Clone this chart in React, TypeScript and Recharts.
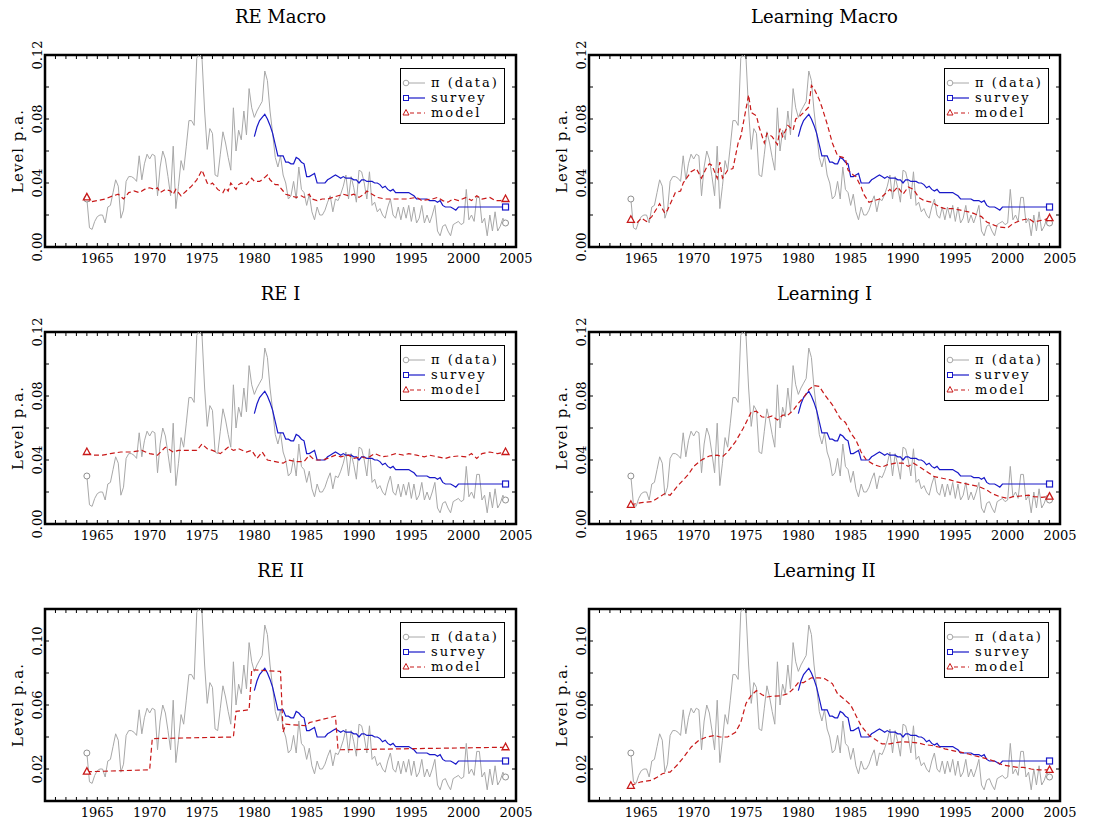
import React from "react";
import { LineChart, Line, XAxis, YAxis, ReferenceArea, Legend } from "recharts";

const FONT = '"DejaVu Serif", serif';

// quarterly inflation, 1964Q1 .. 2004Q1
const inflationStart = 1964;
const inflation = [
  0.030, 0.012, 0.011, 0.016,
  0.019, 0.020, 0.020, 0.015,
  0.025, 0.026, 0.034, 0.042,
  0.038, 0.018, 0.023, 0.041,
  0.044, 0.044, 0.043, 0.041,
  0.057, 0.042, 0.052, 0.058,
  0.055, 0.058, 0.057, 0.032,
  0.050, 0.060, 0.055, 0.044,
  0.032, 0.063, 0.024, 0.038,
  0.054, 0.048, 0.063, 0.079,
  0.079, 0.076, 0.118, 0.121,
  0.118, 0.085, 0.061, 0.074,
  0.071, 0.045, 0.044, 0.058,
  0.072, 0.065, 0.056, 0.048,
  0.087, 0.060, 0.073, 0.067,
  0.085, 0.070, 0.099, 0.087,
  0.081, 0.085, 0.088, 0.091,
  0.110, 0.104, 0.085, 0.071,
  0.056, 0.050, 0.057, 0.045,
  0.040, 0.030, 0.032, 0.041,
  0.030, 0.050, 0.036, 0.034,
  0.026, 0.033, 0.022, 0.017,
  0.025, 0.020, 0.020, 0.023,
  0.028, 0.032, 0.022, 0.030,
  0.029, 0.033, 0.038, 0.045,
  0.030, 0.044, 0.037, 0.028,
  0.048, 0.047, 0.040, 0.030,
  0.047, 0.026, 0.028, 0.022,
  0.024, 0.020, 0.018, 0.025,
  0.030, 0.020, 0.018, 0.025,
  0.017, 0.025, 0.018, 0.026,
  0.016, 0.025, 0.015, 0.018,
  0.026, 0.015, 0.020, 0.015,
  0.020, 0.026, 0.010, 0.007,
  0.013, 0.014, 0.010, 0.007,
  0.014, 0.015, 0.016, 0.014,
  0.015, 0.036, 0.017, 0.020,
  0.016, 0.031, 0.031, 0.015,
  0.018, 0.007, 0.020, 0.010,
  0.022, 0.010, 0.013, 0.018,
  0.015,
];

// quarterly survey expectations, 1980Q1 .. 2004Q1
const surveyStart = 1980;
const survey = [
  0.069, 0.075, 0.079, 0.081,
  0.083, 0.080, 0.076, 0.071,
  0.064, 0.057, 0.057, 0.057,
  0.053, 0.053, 0.052, 0.052,
  0.056, 0.055, 0.053, 0.052,
  0.044, 0.044, 0.045, 0.046,
  0.040, 0.040, 0.040, 0.040,
  0.042, 0.043, 0.044, 0.045,
  0.044, 0.043, 0.044, 0.043,
  0.043, 0.043, 0.042, 0.042,
  0.040, 0.042, 0.042, 0.041,
  0.041, 0.041, 0.040, 0.040,
  0.039, 0.037, 0.038, 0.036,
  0.035, 0.036, 0.034, 0.034,
  0.034, 0.034, 0.034, 0.034,
  0.033, 0.032, 0.030, 0.030,
  0.030, 0.030, 0.030, 0.029,
  0.029, 0.029, 0.028, 0.029,
  0.026, 0.025, 0.025, 0.025,
  0.024, 0.023, 0.025, 0.025,
  0.025, 0.025, 0.025, 0.025,
  0.025, 0.025, 0.025, 0.025,
  0.025, 0.025, 0.025, 0.025,
  0.025, 0.025, 0.025, 0.025,
  0.025,
];

// model expectations, [year, level]
const modelREMacro: [number, number][] = [
  [1964, 0.031], [1964.25, 0.028], [1965, 0.029], [1965.75, 0.030], [1966.5, 0.032],
  [1967, 0.033], [1967.5, 0.030], [1968, 0.034], [1968.5, 0.035], [1969, 0.034],
  [1969.5, 0.036], [1970, 0.037], [1970.5, 0.036], [1970.75, 0.037], [1971, 0.034],
  [1971.5, 0.036], [1972, 0.035], [1972.25, 0.033], [1972.5, 0.036], [1973, 0.032],
  [1973.5, 0.035], [1974, 0.038], [1974.5, 0.042], [1974.75, 0.045], [1975, 0.048],
  [1975.5, 0.040], [1975.75, 0.039], [1976, 0.040], [1976.5, 0.036], [1977, 0.034],
  [1977.25, 0.037], [1977.5, 0.035], [1977.75, 0.040], [1978, 0.038], [1978.25, 0.036],
  [1978.5, 0.039], [1978.75, 0.040], [1979.25, 0.039], [1979.75, 0.043], [1980, 0.041],
  [1980.5, 0.041], [1980.75, 0.042], [1981.25, 0.045], [1981.5, 0.042], [1982, 0.039],
  [1982.25, 0.039], [1982.75, 0.035], [1983, 0.033], [1983.5, 0.032], [1984, 0.031],
  [1984.5, 0.032], [1984.75, 0.031], [1985.25, 0.033], [1985.5, 0.030], [1986, 0.029],
  [1986.5, 0.030], [1987, 0.030], [1987.5, 0.031], [1988, 0.032], [1988.5, 0.033],
  [1989, 0.032], [1989.5, 0.033], [1990, 0.031], [1990.5, 0.033], [1990.75, 0.035],
  [1991.25, 0.033], [1991.75, 0.031], [1992.5, 0.030], [1993.5, 0.030], [1994.5, 0.030],
  [1995.5, 0.031], [1996, 0.029], [1997, 0.030], [1997.5, 0.031], [1998, 0.029],
  [1998.5, 0.028], [1999, 0.030], [1999.5, 0.029], [2000.25, 0.031], [2000.75, 0.029],
  [2001.25, 0.032], [2001.75, 0.030], [2002.5, 0.031], [2003, 0.029], [2003.5, 0.029],
  [2004, 0.030],
];

const modelLearnMacro: [number, number][] = [
  [1964, 0.017], [1964.5, 0.0145], [1965, 0.018], [1965.5, 0.016], [1966, 0.019],
  [1966.75, 0.027], [1967.25, 0.021], [1967.5, 0.023], [1968.25, 0.034], [1968.75, 0.035],
  [1969, 0.040], [1969.75, 0.047], [1970.25, 0.049], [1970.75, 0.043], [1971.25, 0.050],
  [1971.5, 0.052], [1971.75, 0.051], [1972.25, 0.043], [1972.5, 0.053], [1972.75, 0.043],
  [1973.25, 0.048], [1973.75, 0.049], [1974.25, 0.065], [1974.5, 0.069], [1975.25, 0.095],
  [1975.5, 0.084], [1976, 0.082], [1976.25, 0.075], [1976.75, 0.065], [1977, 0.071],
  [1977.5, 0.069], [1978, 0.064], [1978.25, 0.074], [1978.5, 0.069], [1979, 0.076],
  [1979.5, 0.073], [1979.75, 0.080], [1980, 0.081], [1980.5, 0.084], [1981, 0.0875],
  [1981.25, 0.101], [1981.5, 0.099], [1982, 0.092], [1982.25, 0.0875], [1982.75, 0.077],
  [1983.25, 0.065], [1983.75, 0.057], [1984.25, 0.056], [1984.5, 0.055], [1984.75, 0.048],
  [1985.25, 0.045], [1985.5, 0.044], [1986, 0.0375], [1986.25, 0.033], [1986.75, 0.028],
  [1987.25, 0.029], [1987.75, 0.030], [1988.25, 0.033], [1988.75, 0.036], [1989, 0.034],
  [1989.5, 0.0375], [1990, 0.033], [1990.5, 0.0375], [1991, 0.036], [1991.5, 0.031],
  [1992, 0.029], [1992.75, 0.028], [1993.5, 0.025], [1994, 0.024], [1994.75, 0.024],
  [1995.5, 0.023], [1996.25, 0.022], [1996.75, 0.021], [1997.5, 0.019], [1998, 0.0156],
  [1998.75, 0.0135], [1999.25, 0.0125], [2000, 0.012], [2000.5, 0.0146], [2001.25, 0.0167],
  [2002, 0.0177], [2002.5, 0.0156], [2003.25, 0.0167], [2004, 0.018],
];

const modelREI: [number, number][] = [
  [1964, 0.045], [1964.5, 0.043], [1965.5, 0.043], [1966.25, 0.044], [1967.25, 0.045],
  [1968.25, 0.045], [1969.25, 0.046], [1970, 0.044], [1970.75, 0.043], [1971.5, 0.048],
  [1972.25, 0.045], [1972.75, 0.046], [1973.5, 0.046], [1974.5, 0.046], [1975, 0.050],
  [1975.5, 0.047], [1976, 0.046], [1976.75, 0.044], [1977.5, 0.048], [1978, 0.046],
  [1978.5, 0.047], [1979.25, 0.045], [1979.75, 0.046], [1980.25, 0.041], [1980.75, 0.045],
  [1981.25, 0.040], [1982, 0.039], [1982.75, 0.038], [1983.25, 0.040], [1984, 0.039],
  [1984.75, 0.039], [1985.25, 0.043], [1985.75, 0.040], [1986.5, 0.040], [1987, 0.041],
  [1987.75, 0.043], [1988.25, 0.042], [1989, 0.043], [1989.5, 0.041], [1990.25, 0.042],
  [1990.75, 0.041], [1991.5, 0.044], [1992.25, 0.042], [1992.75, 0.0425], [1993.5, 0.044],
  [1994.25, 0.043], [1994.75, 0.044], [1995.5, 0.043], [1996.25, 0.042], [1996.75, 0.043],
  [1997.5, 0.042], [1998.25, 0.041], [1998.75, 0.042], [1999.5, 0.0425], [2000.25, 0.042],
  [2000.75, 0.044], [2001.25, 0.041], [2001.75, 0.044], [2002.5, 0.045], [2003.25, 0.044],
  [2004, 0.045],
];

const modelLearnI: [number, number][] = [
  [1964, 0.012], [1965, 0.0134], [1966, 0.014], [1966.5, 0.016], [1967.25, 0.019],
  [1967.75, 0.018], [1968.5, 0.024], [1969.5, 0.031], [1970, 0.036], [1970.75, 0.040],
  [1971.5, 0.0425], [1972.25, 0.043], [1972.75, 0.042], [1973.25, 0.045], [1974, 0.0515],
  [1974.75, 0.060], [1975.5, 0.070], [1976, 0.0705], [1976.5, 0.067], [1977, 0.0665],
  [1977.5, 0.0675], [1978, 0.065], [1978.5, 0.068], [1979, 0.068], [1979.5, 0.071],
  [1980, 0.0755], [1980.5, 0.079], [1981, 0.084], [1981.5, 0.0865], [1982, 0.086],
  [1982.5, 0.081], [1983.25, 0.0745], [1984, 0.066], [1984.5, 0.0635], [1985, 0.057],
  [1985.5, 0.0525], [1986, 0.045], [1986.5, 0.040], [1987.25, 0.037], [1988, 0.0355],
  [1988.5, 0.037], [1989.25, 0.038], [1990, 0.038], [1990.5, 0.036], [1991, 0.038],
  [1991.75, 0.035], [1992.5, 0.0317], [1993, 0.0296], [1993.75, 0.0286], [1994.5, 0.0276],
  [1995, 0.0265], [1995.75, 0.0255], [1996.5, 0.0244], [1997.25, 0.0234], [1998, 0.0213],
  [1998.5, 0.019], [1999.25, 0.0171], [2000, 0.016], [2000.5, 0.0171], [2001.25, 0.0175],
  [2002, 0.018], [2002.5, 0.0171], [2003.25, 0.0167], [2004, 0.0171],
];

const modelREII: [number, number][] = [
  [1964, 0.0183], [1970, 0.0195], [1970.25, 0.039], [1978, 0.040], [1978.25, 0.056],
  [1979.5, 0.057], [1979.75, 0.082], [1982.5, 0.081], [1982.75, 0.043], [1983, 0.048],
  [1985, 0.047], [1985.25, 0.049], [1987.75, 0.053], [1988, 0.032], [2004, 0.0336],
];

const modelLearnII: [number, number][] = [
  [1964, 0.0095], [1964.5, 0.011], [1965, 0.012], [1966, 0.013], [1966.5, 0.0148],
  [1967, 0.017], [1967.5, 0.018], [1967.75, 0.018], [1968.5, 0.023], [1969, 0.027],
  [1969.75, 0.0336], [1970.5, 0.038], [1971.25, 0.040], [1972, 0.041], [1972.5, 0.040],
  [1973.25, 0.040], [1974, 0.043], [1974.5, 0.049], [1975, 0.061], [1975.5, 0.066],
  [1976, 0.069], [1976.5, 0.0665], [1977, 0.065], [1977.5, 0.0655], [1978.25, 0.0657],
  [1979, 0.067], [1979.5, 0.070], [1980, 0.074], [1980.5, 0.074], [1981.25, 0.077],
  [1982, 0.077], [1982.5, 0.0765], [1983.25, 0.0734], [1983.75, 0.067], [1984.5, 0.063],
  [1985, 0.060], [1985.5, 0.0535], [1986, 0.047], [1986.75, 0.041], [1987.5, 0.0378],
  [1988, 0.0357], [1988.75, 0.0357], [1989.5, 0.0367], [1990, 0.037], [1990.75, 0.0367],
  [1991.5, 0.0363], [1992, 0.0353], [1992.75, 0.0347], [1993.5, 0.0336], [1994, 0.0326],
  [1994.75, 0.0315], [1995.5, 0.0305], [1996.25, 0.0294], [1996.75, 0.0284], [1997.5, 0.0273],
  [1998.25, 0.0259], [1999, 0.0242], [1999.5, 0.0225], [2000.25, 0.0217], [2001, 0.021],
  [2001.5, 0.021], [2002.25, 0.020], [2003, 0.0194], [2004, 0.0194],
];

const xTicks = Array.from({ length: 46 }, (_, i) => 1960 + i);
const yTicks = [0, 0.02, 0.04, 0.06, 0.08, 0.1, 0.12];
const yLabelsTop = [0, 0.04, 0.08, 0.12];
const yLabelsBottom = [0.02, 0.06, 0.1];

const GREY = "#a8a8a8";
const BLUE = "#1818c8";
const RED = "#c81818";

// plot area geometry inside each panel
const PLOT_W = 471;
const PLOT_H = 192;
const Y_AXIS_W = 45;
const M_TOP = 55;
const PANEL_W = 544;
const PANEL_H = 277;
const X_AXIS_H = PANEL_H - M_TOP - PLOT_H;

const inflationData = inflation.map((v, i) => ({ x: inflationStart + i / 4, v }));
const surveyData = survey.map((v, i) => ({ x: surveyStart + i / 4, v }));
const toData = (pairs: [number, number][]) => pairs.map(([x, v]) => ({ x, v }));

const XTick = (props: any) => {
  const { x, y, payload } = props;
  const yr = payload.value;
  const edge = yr === 1960 || yr === 2005;
  return (
    <g>
      {!edge && (
        <>
          <line x1={x} x2={x} y1={y} y2={y - 4} stroke="#000" strokeWidth={1} />
          <line x1={x} x2={x} y1={y - PLOT_H} y2={y - PLOT_H + 4} stroke="#000" strokeWidth={1} />
        </>
      )}
      {yr % 5 === 0 && yr > 1960 && (
        <text x={x} y={y + 16} textAnchor="middle" fontFamily={FONT} fontSize={13} fill="#000">
          {yr}
        </text>
      )}
    </g>
  );
};

const YTick = (props: any) => {
  const { x, y, payload, labels } = props;
  const v = payload.value;
  const show = labels.some((l: number) => Math.abs(l - v) < 1e-9);
  const inner = v > 0.001 && v < 0.119;
  return (
    <g>
      {inner && (
        <>
          <line x1={x} x2={x + 4} y1={y} y2={y} stroke="#000" strokeWidth={1} />
          <line x1={x + PLOT_W} x2={x + PLOT_W - 4} y1={y} y2={y} stroke="#000" strokeWidth={1} />
        </>
      )}
      {show && (
        <text
          x={x - 3}
          y={y}
          transform={`rotate(-90 ${x - 3} ${y})`}
          textAnchor="middle"
          fontFamily={FONT}
          fontSize={13}
          fill="#000"
        >
          {v.toFixed(2)}
        </text>
      )}
    </g>
  );
};

const YLabel = (props: any) => {
  const vb = props.viewBox || { x: 0, y: M_TOP, width: Y_AXIS_W, height: PLOT_H };
  const cx = vb.x + vb.width - 22;
  const cy = vb.y + vb.height / 2;
  return (
    <text
      x={cx}
      y={cy}
      transform={`rotate(-90 ${cx} ${cy})`}
      textAnchor="middle"
      fontFamily={FONT}
      fontSize={15}
      letterSpacing={1}
      fill="#000"
    >
      Level p.a.
    </text>
  );
};

const endDot = (shape: string, color: string, last: number, withFirst: boolean) => (p: any) => {
  const { cx, cy, index } = p;
  const k = `dot-${shape}-${index}`;
  if (!((withFirst && index === 0) || index === last)) return <g key={k} />;
  if (shape === "circle")
    return <circle key={k} cx={cx} cy={cy} r={3} fill="#fff" stroke={color} strokeWidth={1} />;
  if (shape === "square")
    return <rect key={k} x={cx - 3} y={cy - 3} width={6} height={6} fill="#fff" stroke={color} strokeWidth={1.2} />;
  return (
    <polygon
      key={k}
      points={`${cx},${cy - 4} ${cx - 3.5},${cy + 2.5} ${cx + 3.5},${cy + 2.5}`}
      fill="#fff"
      stroke={color}
      strokeWidth={1.3}
      strokeDasharray="none"
    />
  );
};

const LegendIcon = ({ kind }: { kind: string }) => (
  <svg width={28} height={12} style={{ display: "block", flex: "none" }}>
    {kind === "pi" && (
      <>
        <line x1={6} x2={24} y1={6} y2={6} stroke={GREY} strokeWidth={1} />
        <circle cx={5} cy={6} r={2.8} fill="#fff" stroke={GREY} />
      </>
    )}
    {kind === "survey" && (
      <>
        <line x1={6} x2={24} y1={6} y2={6} stroke={BLUE} strokeWidth={1.2} />
        <rect x={2.5} y={3.5} width={5} height={5} fill="#fff" stroke={BLUE} />
      </>
    )}
    {kind === "model" && (
      <>
        <line x1={9} x2={24} y1={6} y2={6} stroke={RED} strokeWidth={1.2} strokeDasharray="4 3" />
        <polygon points="5,2.5 2,8 8,8" fill="#fff" stroke={RED} />
      </>
    )}
  </svg>
);

const legendRows = [
  { kind: "pi", label: "π (data)" },
  { kind: "survey", label: "survey" },
  { kind: "model", label: "model" },
];

const LegendBox = () => (
  <div
    style={{
      border: "1px solid #000",
      background: "#fff",
      width: 105,
      height: 56,
      boxSizing: "border-box",
      paddingTop: 6,
      fontFamily: FONT,
      fontSize: 13,
      color: "#000",
    }}
  >
    {legendRows.map((r) => (
      <div key={r.kind} style={{ display: "flex", alignItems: "center", height: 15, lineHeight: "15px" }}>
        <LegendIcon kind={r.kind} />
        <span style={{ marginLeft: 2, letterSpacing: 2, whiteSpace: "nowrap" }}>{r.label}</span>
      </div>
    ))}
  </div>
);

const panels = [
  { title: "RE Macro", model: modelREMacro, col: 0, row: 0, yLabels: yLabelsTop },
  { title: "Learning Macro", model: modelLearnMacro, col: 1, row: 0, yLabels: yLabelsTop },
  { title: "RE I", model: modelREI, col: 0, row: 1, yLabels: yLabelsTop },
  { title: "Learning I", model: modelLearnI, col: 1, row: 1, yLabels: yLabelsTop },
  { title: "RE II", model: modelREII, col: 0, row: 2, yLabels: yLabelsBottom },
  { title: "Learning II", model: modelLearnII, col: 1, row: 2, yLabels: yLabelsBottom },
];

const Panel = ({ title, model, col, row, yLabels }: any) => {
  const left = col * PANEL_W;
  const top = row * PANEL_H;
  const modelData = toData(model);
  return (
    <div style={{ position: "absolute", left, top, width: PANEL_W, height: PANEL_H }}>
      <div
        style={{
          position: "absolute",
          left: Y_AXIS_W,
          width: PLOT_W,
          top: M_TOP - 38 - 11,
          height: 22,
          lineHeight: "22px",
          textAlign: "center",
          fontFamily: FONT,
          fontSize: 18,
          color: "#000",
          whiteSpace: "pre",
        }}
      >
        {title}
      </div>
      <LineChart
        width={PANEL_W}
        height={PANEL_H}
        margin={{ left: 0, top: M_TOP, right: PANEL_W - Y_AXIS_W - PLOT_W, bottom: 0 }}
      >
        <XAxis
          dataKey="x"
          type="number"
          domain={[1960, 2005]}
          ticks={xTicks}
          interval={0}
          allowDataOverflow
          axisLine={false}
          tickLine={false}
          tickSize={0}
          tickMargin={0}
          height={X_AXIS_H}
          tick={<XTick />}
        />
        <YAxis
          type="number"
          domain={[0, 0.12]}
          ticks={yTicks}
          interval={0}
          allowDataOverflow
          axisLine={false}
          tickLine={false}
          tickSize={0}
          tickMargin={0}
          width={Y_AXIS_W}
          tick={<YTick labels={yLabels} />}
          label={<YLabel />}
        />
        <Line
          data={inflationData}
          dataKey="v"
          type="linear"
          stroke={GREY}
          strokeWidth={1}
          dot={endDot("circle", "#909090", inflationData.length - 1, true)}
          activeDot={false}
          isAnimationActive={false}
        />
        <Line
          data={surveyData}
          dataKey="v"
          type="linear"
          stroke={BLUE}
          strokeWidth={1.2}
          dot={endDot("square", BLUE, surveyData.length - 1, false)}
          activeDot={false}
          isAnimationActive={false}
        />
        <Line
          data={modelData}
          dataKey="v"
          type="linear"
          stroke={RED}
          strokeWidth={1.2}
          strokeDasharray="5 3"
          dot={endDot("triangle", RED, modelData.length - 1, true)}
          activeDot={false}
          isAnimationActive={false}
        />
        <ReferenceArea
          x1={1960}
          x2={2005}
          y1={0}
          y2={0.12}
          fill="none"
          fillOpacity={0}
          stroke="#000"
          strokeWidth={2.5}
          ifOverflow="visible"
        />
        <Legend
          layout="vertical"
          align="center"
          verticalAlign="middle"
          content={<LegendBox />}
          wrapperStyle={{ left: Y_AXIS_W + PLOT_W - 11 - 105, top: M_TOP + 13, width: 105, height: 56 }}
        />
      </LineChart>
    </div>
  );
};

export default function App() {
  return (
    <div style={{ position: "absolute", left: 0, top: 0, width: 1094, height: 823, background: "#fff" }}>
      {panels.map((p) => (
        <Panel key={p.title} {...p} />
      ))}
    </div>
  );
}
